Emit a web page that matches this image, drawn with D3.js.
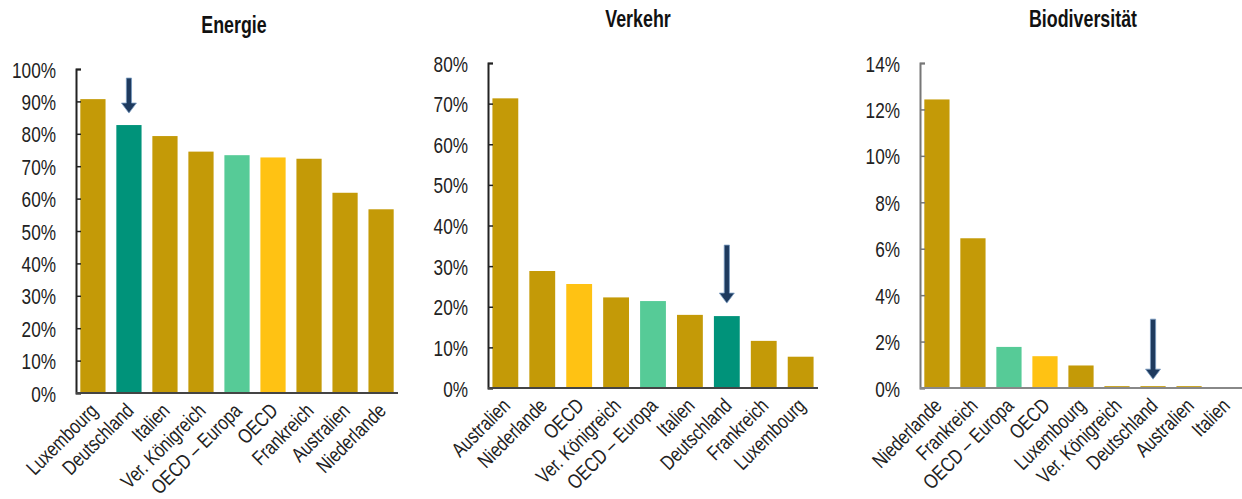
<!DOCTYPE html>
<html>
<head>
<meta charset="utf-8">
<script src="https://cdn.jsdelivr.net/npm/d3@7"></script>
<style>
  html, body { margin: 0; padding: 0; background: #fff; }
  svg text { font-family: "Liberation Sans", Arial, sans-serif; }
</style>
</head>
<body>
<svg id="chart" width="1242" height="499"></svg>
<script>
// ---------- data ----------
const energieCategories = ["Luxembourg", "Deutschland", "Italien", "Ver. Königreich", "OECD – Europa", "OECD", "Frankreich", "Australien", "Niederlande"];
const energieValues = [0.907, 0.827, 0.793, 0.745, 0.734, 0.727, 0.723, 0.618, 0.567];
const energieTicks = [0, 0.1, 0.2, 0.3, 0.4, 0.5, 0.6, 0.7, 0.8, 0.9, 1.0];

const verkehrCategories = ["Australien", "Niederlande", "OECD", "Ver. Königreich", "OECD – Europa", "Italien", "Deutschland", "Frankreich", "Luxembourg"];
const verkehrValues = [0.713, 0.288, 0.256, 0.223, 0.214, 0.180, 0.177, 0.116, 0.077];
const verkehrTicks = [0, 0.1, 0.2, 0.3, 0.4, 0.5, 0.6, 0.7, 0.8];

const bioCategories = ["Niederlande", "Frankreich", "OECD – Europa", "OECD", "Luxembourg", "Ver. Königreich", "Deutschland", "Australien", "Italien"];
const bioValues = [0.1243, 0.0645, 0.0177, 0.0137, 0.0097, 0.0008, 0.0008, 0.0008, 0.0];
const bioTicks = [0, 0.02, 0.04, 0.06, 0.08, 0.10, 0.12, 0.14];

const titles = ["Energie", "Verkehr", "Biodiversität"];
const highlighted = "Deutschland";

// ---------- styles ----------
const colorOf = {
  "Deutschland": "#00937A",
  "OECD": "#FFC213",
  "OECD – Europa": "#56CB97"
};
const defaultColor = "#C49A07";

const panels = [
  { title: titles[0], cats: energieCategories, vals: energieValues, ticks: energieTicks, max: 1.0,
    x0: 76, x1: 398, yTop: 69, yBot: 393, titleX: 234, titleY: 33, arrowGap: 12, arrowLen: 35 },
  { title: titles[1], cats: verkehrCategories, vals: verkehrValues, ticks: verkehrTicks, max: 0.8,
    x0: 488, x1: 818, yTop: 63, yBot: 388, titleX: 638, titleY: 27, arrowGap: 13, arrowLen: 58 },
  { title: titles[2], cats: bioCategories, vals: bioValues, ticks: bioTicks, max: 0.14,
    x0: 920, x1: 1242, yTop: 63, yBot: 388, titleX: 1083, titleY: 27, arrowGap: 7, arrowLen: 60 }
];

const svg = d3.select("#chart");

panels.forEach((p, pi) => {
  const g = svg.append("g");
  const x = d3.scaleBand().domain(p.cats).range([p.x0, p.x1]).paddingInner(0.3).paddingOuter(0.12);
  const y = d3.scaleLinear().domain([0, p.max]).range([p.yBot, p.yTop]);

  // title
  g.append("text")
    .attr("transform", `translate(${p.titleX},${p.titleY}) scale(0.85,1.1)`)
    .attr("text-anchor", "middle")
    .attr("font-size", 21).attr("font-weight", "bold")
    .attr("fill", "#111")
    .text(p.title);

  // bars
  const data = p.cats.map((c, i) => ({ cat: c, val: p.vals[i] }));
  g.selectAll("rect.bar").data(data).enter().append("rect")
    .attr("class", "bar")
    .attr("x", d => x(d.cat))
    .attr("width", x.bandwidth())
    .attr("y", d => y(d.val))
    .attr("height", d => y(0) - y(d.val))
    .attr("fill", d => (pi === 2 && d.cat === highlighted) ? defaultColor : (colorOf[d.cat] || defaultColor));

  // y axis
  const yAxis = d3.axisLeft(y).tickValues(p.ticks)
    .tickFormat(d3.format(".0%"))
    .tickSizeInner(-5).tickSizeOuter(-5).tickPadding(0);
  const ya = g.append("g").attr("transform", `translate(${p.x0},0)`).call(yAxis);
  ya.select(".domain").attr("stroke", pi === 2 ? "#777" : "#222").attr("stroke-width", 2);
  ya.selectAll(".tick line").attr("stroke", pi === 2 ? "#777" : "#222").attr("stroke-width", 1.5);
  ya.selectAll(".tick text").attr("font-size", 20).attr("fill", "#222")
    .attr("x", 0).attr("dy", "0.36em")
    .attr("transform", "translate(-20,0) scale(0.86,1.12)");

  // x axis
  const xAxis = d3.axisBottom(x).tickSize(0).tickPadding(0);
  const xa = g.append("g").attr("transform", `translate(0,${p.yBot})`).call(xAxis);
  xa.select(".domain").attr("stroke", pi === 2 ? "#888" : "#444").attr("stroke-width", 2)
    .attr("d", `M${p.x0},0H${p.x1}`);
  xa.selectAll(".tick text")
    .attr("font-size", 19).attr("fill", "#222")
    .attr("text-anchor", "end")
    .attr("dy", 0)
    .attr("y", 0)
    .attr("transform", "translate(6,19) rotate(-45) scale(0.86,1.08)");

  // arrow pointing at Deutschland
  const di = p.cats.indexOf(highlighted);
  const cx = x(highlighted) + x.bandwidth() / 2;
  const tip = y(p.vals[di]) - p.arrowGap;
  const top = tip - p.arrowLen;
  const headH = 10, headW = 7.5, shaftW = 2.6;
  const path = `M${cx - shaftW},${top} L${cx + shaftW},${top} L${cx + shaftW},${tip - headH}
    L${cx + headW},${tip - headH} L${cx},${tip} L${cx - headW},${tip - headH}
    L${cx - shaftW},${tip - headH} Z`;
  g.append("path").attr("d", path)
    .attr("fill", "#1E3A5E").attr("stroke", "#7A9CC2").attr("stroke-width", 0.8);
});
</script>
</body>
</html>
